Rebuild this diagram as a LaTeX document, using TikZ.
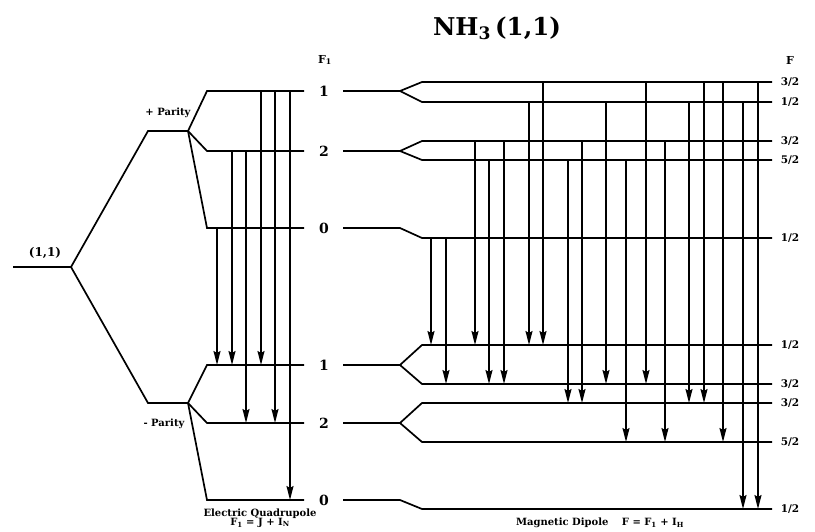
\documentclass[tikz,border=0pt]{standalone}
\usepackage{fontspec}
\setmainfont{DejaVu Serif}
\usetikzlibrary{arrows.meta}
\newcommand{\fsz}[1]{\bfseries\fontsize{#1}{#1}\selectfont}
\newcommand{\sbs}[1]{\textsubscript{#1}}
\begin{document}
\begin{tikzpicture}[x=1pt,y=-1pt,
  lvl/.style={line width=1.7pt,line join=miter},
  arr/.style={line width=1.7pt,-{Stealth[length=14pt,width=7pt,inset=2pt]}},
  lab/.style={font=\fsz{14},inner sep=0pt},
  flab/.style={font=\fsz{10.5},inner sep=0pt},
  small/.style={font=\fsz{10},inner sep=0pt}]
\useasboundingbox (0,0) rectangle (815,531);
% level coordinates
\coordinate (G) at (13,267);
\coordinate (Lu1) at (207,91);
\coordinate (Lu2) at (207,151);
\coordinate (Lu0) at (207,228);
\coordinate (Ll1) at (207,365);
\coordinate (Ll2) at (207,423);
\coordinate (Ll0) at (207,500);
\coordinate (Ra) at (422,82);
\coordinate (Rb) at (422,102);
\coordinate (Rc) at (422,141);
\coordinate (Rd) at (422,160);
\coordinate (Re) at (422,238);
\coordinate (Rf) at (422,345);
\coordinate (Rg) at (422,384);
\coordinate (Rh) at (422,403);
\coordinate (Ri) at (422,442);
\coordinate (Rj) at (422,509);
% left tree
\draw[lvl] (G) -- (71,267) -- (148,131) -- (188,131);
\draw[lvl] (71,267) -- (148,403) -- (188,403);
\draw[lvl] (188,131) -- (Lu1) -- (304,91);
\draw[lvl] (188,131) -- (Lu2) -- (304,151);
\draw[lvl] (188,131) -- (Lu0) -- (304,228);
\draw[lvl] (188,403) -- (Ll1) -- (304,365);
\draw[lvl] (188,403) -- (Ll2) -- (304,423);
\draw[lvl] (188,403) -- (Ll0) -- (304,500);
% right tree
\draw[lvl] (343,91) -- (400,91) -- (Ra) -- (772,82);
\draw[lvl] (400,91) -- (Rb) -- (772,102);
\draw[lvl] (343,151) -- (400,151) -- (Rc) -- (772,141);
\draw[lvl] (400,151) -- (Rd) -- (772,160);
\draw[lvl] (343,228) -- (400,228) -- (Re) -- (772,238);
\draw[lvl] (343,365) -- (400,365) -- (Rf) -- (772,345);
\draw[lvl] (400,365) -- (Rg) -- (772,384);
\draw[lvl] (343,423) -- (400,423) -- (Rh) -- (772,403);
\draw[lvl] (400,423) -- (Ri) -- (772,442);
\draw[lvl] (343,500) -- (400,500) -- (Rj) -- (772,509);
% electric quadrupole transitions
\foreach \x/\a/\b in {217/Lu0/Ll1, 232/Lu2/Ll1, 246/Lu2/Ll2, 261/Lu1/Ll1, 275/Lu1/Ll2, 290/Lu1/Ll0}
  \draw[arr] (\x,0 |- \a) -- (\x,0 |- \b);
% magnetic dipole transitions
\foreach \x/\a/\b in {431/Re/Rf, 446/Re/Rg, 475/Rc/Rf, 489/Rd/Rg, 504/Rc/Rg,
  529/Rb/Rf, 543/Ra/Rf, 568/Rd/Rh, 582/Rc/Rh, 606/Rb/Rg, 626/Rd/Ri, 646/Ra/Rg,
  665/Rc/Ri, 689/Rb/Rh, 704/Ra/Rh, 723/Ra/Ri, 743/Rb/Rj, 758/Ra/Rj}
  \draw[arr] (\x,0 |- \a) -- (\x,0 |- \b);
% labels
\node[font=\fsz{24.5},inner sep=0pt] (title) at (497,28) {NH\sbs{3}\,(1,1)};
\node[font=\fsz{12},inner sep=0pt] (g) at (45,253) {(1,1)};
\node[small] (pp) at (168,113) {+ Parity};
\node[small] (mp) at (164,424) {- Parity};
\node[font=\fsz{11},inner sep=0pt] (F1h) at (325,60) {F\sbs{1}};
\node[lab] (n1) at (324,91) {1};
\node[lab] (n2) at (324,151) {2};
\node[lab] (n0) at (324,228) {0};
\node[lab] (m1) at (324,365) {1};
\node[lab] (m2) at (324,423) {2};
\node[lab] (m0) at (324,500) {0};
\node[font=\fsz{11},inner sep=0pt] (Fh) at (790,60) {F};
\node[flab] (fa) at (790,82) {3/2};
\node[flab] (fb) at (790,102) {1/2};
\node[flab] (fc) at (790,141) {3/2};
\node[flab] (fd) at (790,160) {5/2};
\node[flab] (fe) at (790,238) {1/2};
\node[flab] (ff) at (790,345) {1/2};
\node[flab] (fg) at (790,384) {3/2};
\node[flab] (fh) at (790,403) {3/2};
\node[flab] (fi) at (790,442) {5/2};
\node[flab] (fj) at (790,509) {1/2};
\node[small,align=center] (eq) at (260,518) {Electric Quadrupole\\[-1pt]F\sbs{1} = J + I\sbs{N}};
\node[small] (md) at (600,523) {Magnetic Dipole\quad\ F\ =\ F\sbs{1}\ +\ I\sbs{H}};
\end{tikzpicture}
\end{document}
